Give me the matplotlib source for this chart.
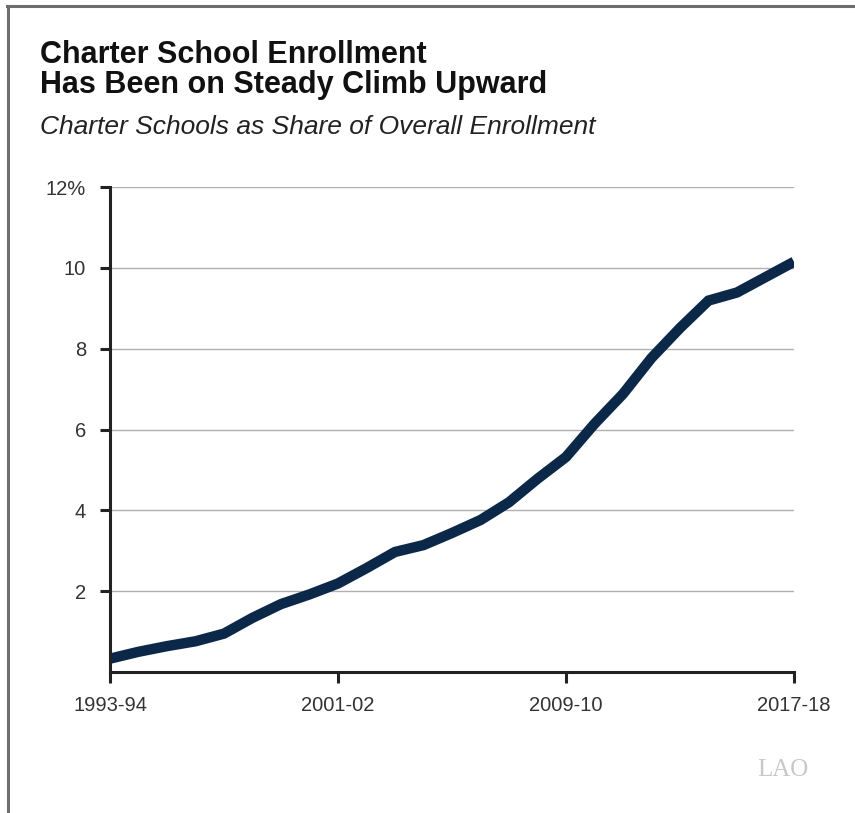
import matplotlib
matplotlib.use("Agg")
import matplotlib.pyplot as plt
from matplotlib.lines import Line2D

# School years 1993-94 .. 2017-18, charter share of total enrollment (%)
YEARS = [f"{y}-{(y + 1) % 100:02d}" for y in range(1993, 2018)]
SHARE = [0.33, 0.50, 0.64, 0.76, 0.95, 1.34, 1.68, 1.92, 2.19, 2.57,
         2.97, 3.14, 3.44, 3.76, 4.20, 4.78, 5.32, 6.14, 6.88, 7.77,
         8.51, 9.19, 9.39, 9.77, 10.15]
XTICK_YEARS = ["1993-94", "2001-02", "2009-10", "2017-18"]
YTICKS = [2, 4, 6, 8, 10, 12]
YTICK_LABELS = ["2", "4", "6", "8", "10", "12%"]

NAVY = "#0c2849"
TXT = "#333333"
plt.rcParams["font.family"] = ["Liberation Sans", "DejaVu Sans"]

fig = plt.figure(figsize=(8.55, 8.13), dpi=100)
ax = fig.add_axes([110 / 855, 1 - 672 / 813, 684 / 855, 485 / 813])

x = list(range(len(YEARS)))
ax.plot(x, SHARE, color=NAVY, lw=7.5, solid_joinstyle="miter",
        solid_capstyle="butt", zorder=3)

ax.set_xlim(0, len(YEARS) - 1)
ax.set_ylim(0, 12)
ax.set_yticks(YTICKS)
ax.set_yticklabels(YTICK_LABELS)
ax.set_xticks([YEARS.index(y) for y in XTICK_YEARS])
ax.set_xticklabels(XTICK_YEARS)
ax.tick_params(axis="y", length=7.2, width=2.2, color="#222222", pad=10,
               labelsize=14.5, labelcolor=TXT)
ax.tick_params(axis="x", length=8, width=2.2, color="#222222", pad=9,
               labelsize=14.5, labelcolor=TXT)
ax.grid(axis="y", color="#b0b0b0", lw=1)
ax.set_axisbelow(True)
for s in ("top", "right"):
    ax.spines[s].set_visible(False)
for s in ("left", "bottom"):
    ax.spines[s].set_linewidth(2.2)
    ax.spines[s].set_color("#222222")
    ax.spines[s].set_zorder(4)

fig.text(40 / 855, 1 - 93 / 813, "Charter School Enrollment\nHas Been on Steady Climb Upward",
         fontsize=22, fontweight="bold", color="#111111", va="baseline",
         linespacing=1.02)
fig.text(40 / 855, 1 - 134 / 813, "Charter Schools as Share of Overall Enrollment",
         fontsize=19, style="italic", color="#222222", va="baseline")
fig.text(808 / 855, 1 - 776 / 813, "LAO", family="Liberation Serif",
         fontsize=18, color="#c8c8c8", ha="right", va="baseline")

# frame lines along top and left edge
fig.add_artist(Line2D([7 / 855, 1], [1 - 6 / 813] * 2, color="#6e6e6e", lw=2.2))
fig.add_artist(Line2D([8 / 855] * 2, [1 - 6 / 813, 0], color="#6e6e6e", lw=2.2))

fig.savefig("out.png", dpi=100)
